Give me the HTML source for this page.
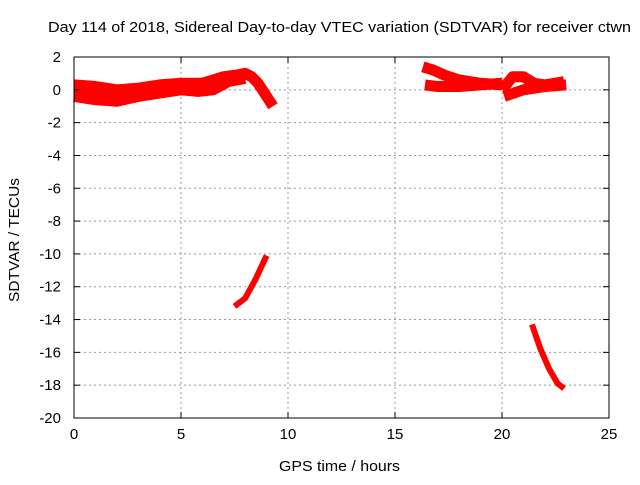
<!DOCTYPE html>
<html><head><meta charset="utf-8"><style>
body{margin:0;background:#fff}
svg text{font-family:"Liberation Sans",sans-serif;font-size:15px;fill:#000}
</style></head><body>
<svg id="chart" width="640" height="480" xmlns="http://www.w3.org/2000/svg">
<rect width="640" height="480" fill="#fff"/>
<text x="48" y="32" textLength="583" lengthAdjust="spacingAndGlyphs">Day 114 of 2018, Sidereal Day-to-day VTEC variation (SDTVAR) for receiver ctwn</text>
<text x="279" y="471" textLength="121" lengthAdjust="spacingAndGlyphs">GPS time / hours</text>
<text transform="translate(19,302) rotate(-90)" textLength="124" lengthAdjust="spacingAndGlyphs">SDTVAR / TECUs</text>
<g id="grid"></g><g id="marks"></g><g id="axes"></g>
</svg>
<script>
const xTicks=[0,5,10,15,20,25];
const yTicks=[2,0,-2,-4,-6,-8,-10,-12,-14,-16,-18,-20];
const trackNames=['arc-morning-upper','arc-morning-lower','arc-morning-middle','arc-pre-noon','arc-late-low','arc-evening-upper','arc-evening-lower','arc-night-upper','arc-night-lower'];
const trackHours=[
[0,1,2,3,4,5,6,7,7.6,8,8.3,8.6,9,9.3],
[0,1,2,3,4,5,5.8,6.5,7.2,8],
[0,1,2,3,4,5,6],
[7.5,8,8.5,9],
[21.4,21.8,22.2,22.6,22.9],
[16.3,16.8,17.3,18,19,20],
[16.4,17,18,19,20],
[20,20.5,21,21.5,22,22.9],
[20.1,21,22,23]];
const trackValues=[
[0.3,0.2,0,0.1,0.3,0.4,0.4,0.8,0.9,1.0,0.8,0.4,-0.4,-1.0],
[-0.4,-0.6,-0.7,-0.4,-0.2,0,-0.1,0,0.5,0.7],
[-0.1,-0.2,-0.3,0,0.1,0.2,0.1],
[-13.2,-12.7,-11.5,-10.1],
[-14.3,-15.8,-17.0,-17.9,-18.2],
[1.4,1.2,0.9,0.6,0.4,0.3],
[0.3,0.2,0.2,0.3,0.4],
[0,0.8,0.8,0.4,0.3,0.5],
[-0.4,0,0.2,0.3]];
const L=74,R=609,T=57,B=418;
const sx=v=>L+(v/25)*(R-L);
const sy=v=>T+(2-v)/22*(B-T);
const NS='http://www.w3.org/2000/svg';
const grid=document.getElementById('grid'),axes=document.getElementById('axes'),marks=document.getElementById('marks');
function mk(tag,attrs,parent){const e=document.createElementNS(NS,tag);for(const k in attrs)e.setAttribute(k,attrs[k]);parent.appendChild(e);return e;}
xTicks.forEach(t=>{
 if(t>0&&t<25){const g=mk('line',{x1:sx(t),x2:sx(t),y1:T,y2:B,stroke:'#999','stroke-dasharray':'2,3'},grid);
 
 }
 mk('line',{x1:sx(t),x2:sx(t),y1:B,y2:B-6,stroke:'#000'},axes);
 mk('line',{x1:sx(t),x2:sx(t),y1:T,y2:T+6,stroke:'#000'},axes);
 const tx=mk('text',{x:sx(t),y:B+21,'text-anchor':'middle'},axes);tx.textContent=t;
 
 
});
yTicks.forEach(t=>{
 if(t>-20&&t<2){const g=mk('line',{x1:L,x2:R,y1:sy(t),y2:sy(t),stroke:'#999','stroke-dasharray':'2,3'},grid);
 
 }
 mk('line',{x1:L,x2:L+6,y1:sy(t),y2:sy(t),stroke:'#000'},axes);
 mk('line',{x1:R,x2:R-6,y1:sy(t),y2:sy(t),stroke:'#000'},axes);
 const tx=mk('text',{x:L-13,y:sy(t)+5,'text-anchor':'end'},axes);tx.textContent=t;
 
 
});
const frame=mk('rect',{x:L,y:T,width:R-L,height:B-T,fill:'none',stroke:'#000'},axes);


trackHours.forEach((hs,i)=>{
 const pts=hs.map((h,j)=>sx(h)+','+sy(trackValues[i][j])).join(' ');
 const p=mk('polyline',{points:pts,fill:'none',stroke:'#f00','stroke-width':(i==3||i==4)?6:11,'stroke-linejoin':'round','stroke-linecap':'butt'},marks);
 
 
});
</script>
</body></html>
